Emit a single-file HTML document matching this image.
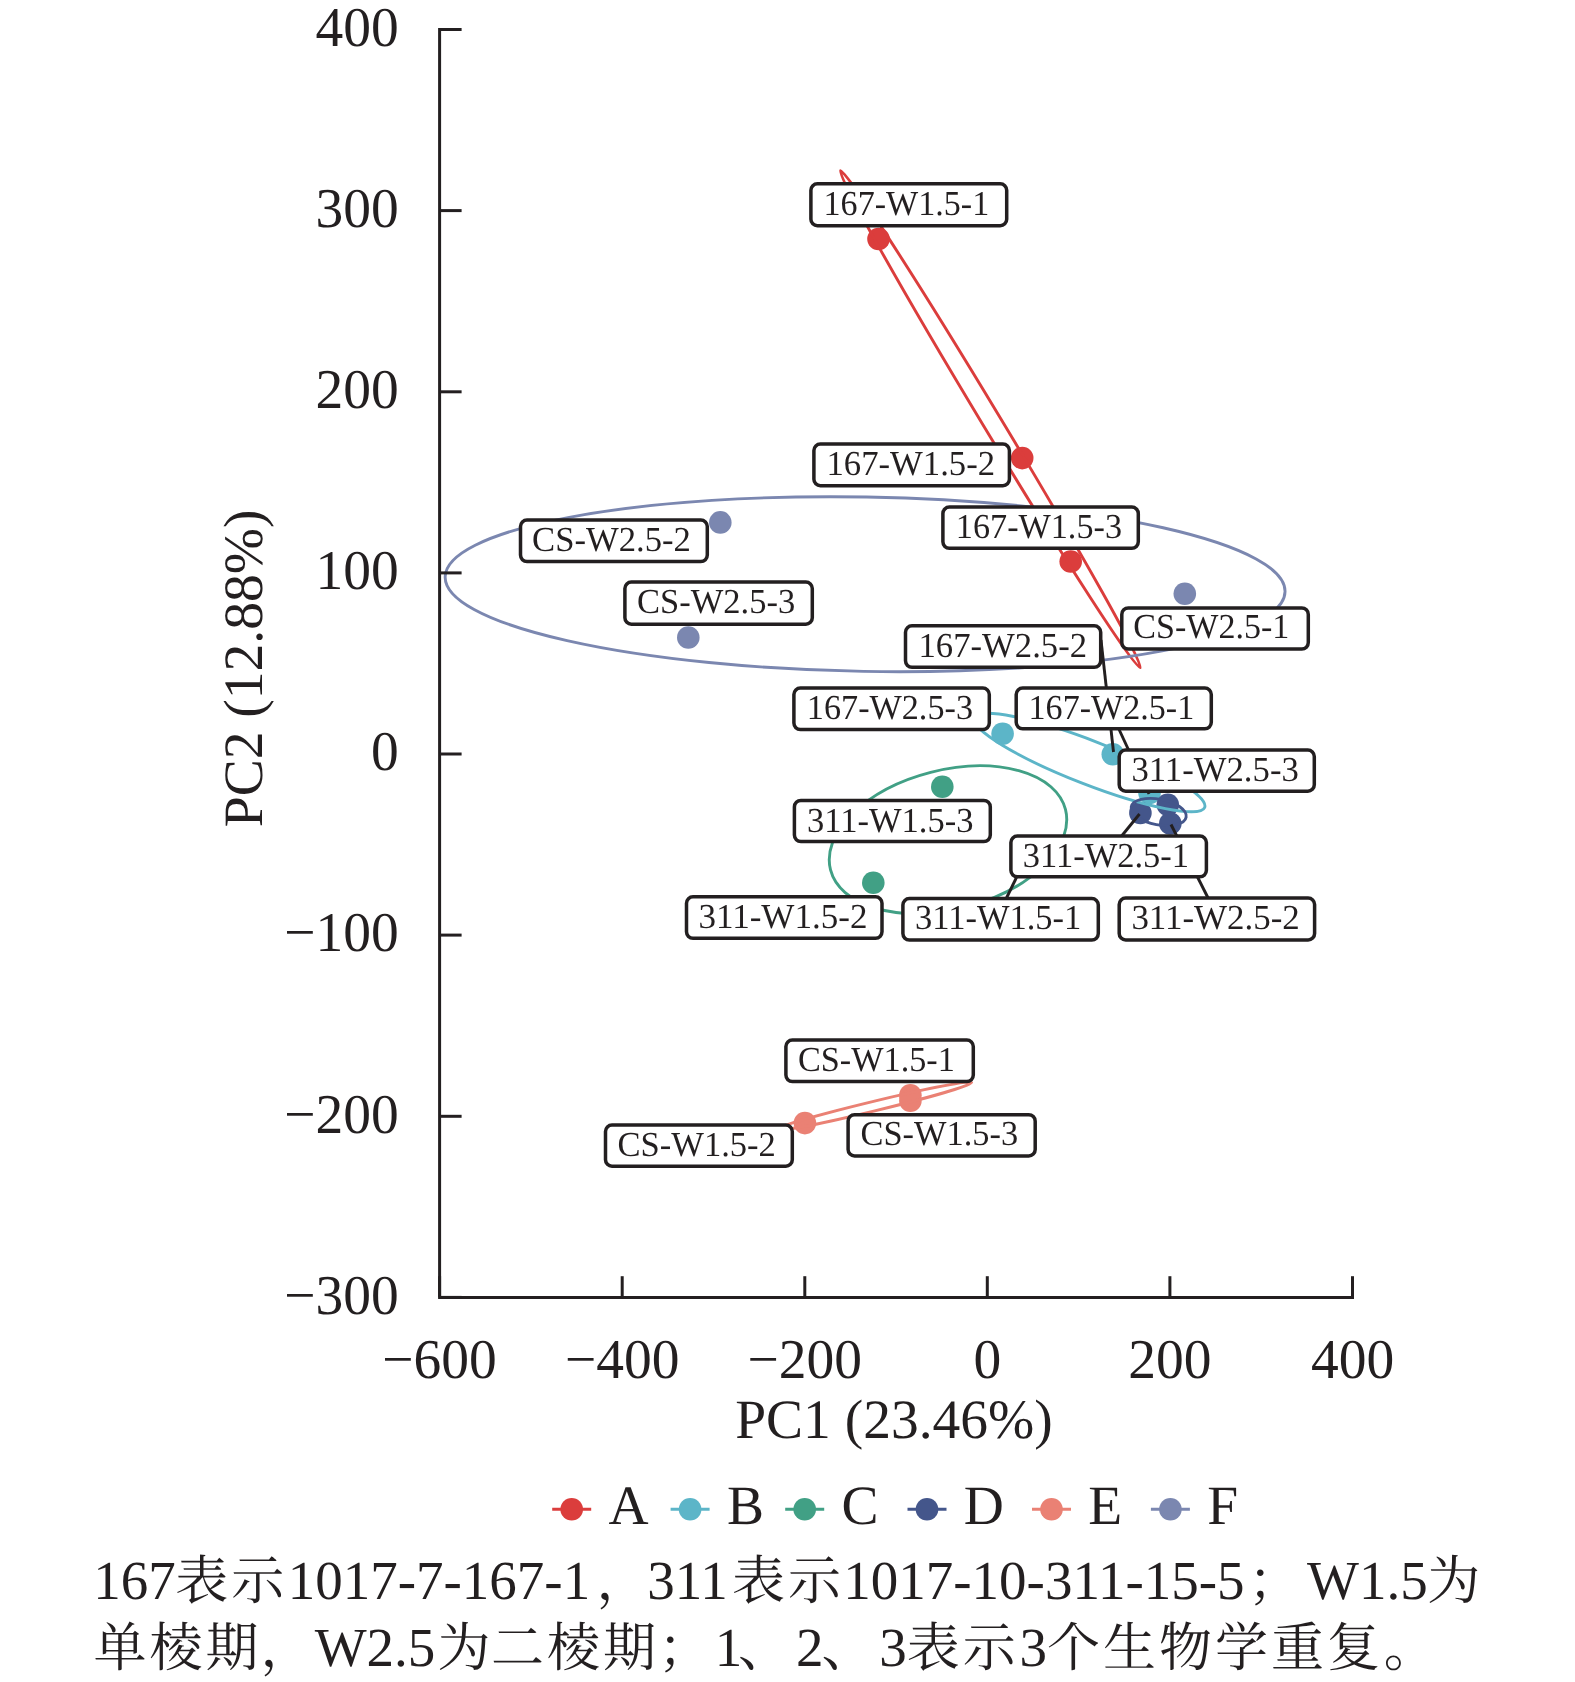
<!DOCTYPE html>
<html><head><meta charset="utf-8"><title>PCA</title>
<style>html,body{margin:0;padding:0;background:#fff;width:1575px;height:1682px;overflow:hidden}</style>
</head><body>
<svg width="1575" height="1682" viewBox="0 0 1575 1682" style="display:block;will-change:transform;text-rendering:geometricPrecision">
<rect width="1575" height="1682" fill="#fff"/>
<circle cx="878.5" cy="239.0" r="11.3" fill="#DB3D3C"/>
<circle cx="1022.2" cy="458.1" r="11.3" fill="#DB3D3C"/>
<circle cx="1070.7" cy="561.5" r="11.3" fill="#DB3D3C"/>
<circle cx="1002.6" cy="733.8" r="11.3" fill="#5CB5C8"/>
<circle cx="1112.8" cy="754.3" r="11.3" fill="#5CB5C8"/>
<circle cx="1149.5" cy="793.0" r="11.3" fill="#5CB5C8"/>
<circle cx="942.3" cy="786.8" r="11.3" fill="#41A085"/>
<circle cx="873.3" cy="882.8" r="11.3" fill="#41A085"/>
<circle cx="1028.5" cy="850.0" r="11.3" fill="#41A085"/>
<circle cx="1140.4" cy="813.0" r="11.3" fill="#44568B"/>
<circle cx="1167.8" cy="804.8" r="11.3" fill="#44568B"/>
<circle cx="1170.3" cy="823.5" r="11.3" fill="#44568B"/>
<circle cx="804.9" cy="1123.1" r="11.3" fill="#EA8174"/>
<circle cx="910.4" cy="1095.3" r="11.3" fill="#EA8174"/>
<circle cx="910.4" cy="1100.7" r="11.3" fill="#EA8174"/>
<circle cx="1184.8" cy="593.8" r="11.3" fill="#7B87B0"/>
<circle cx="720.3" cy="522.4" r="11.3" fill="#7B87B0"/>
<circle cx="688.3" cy="637.5" r="11.3" fill="#7B87B0"/>
<ellipse cx="990.35" cy="419.2" rx="290.2" ry="9.2" transform="rotate(58.9 990.35 419.2)" fill="none" stroke="#DB3D3C" stroke-width="2.9"/>
<ellipse cx="1089.4" cy="762.6" rx="123.7" ry="21.8" transform="rotate(21.25 1089.4 762.6)" fill="none" stroke="#5CB5C8" stroke-width="2.9"/>
<ellipse cx="948.0" cy="839.7" rx="121.3" ry="69.6" transform="rotate(-14.44 948.0 839.7)" fill="none" stroke="#41A085" stroke-width="2.9"/>
<ellipse cx="1158.7" cy="812.0" rx="27.9" ry="12.8" transform="rotate(10.7 1158.7 812.0)" fill="none" stroke="#44568B" stroke-width="2.9"/>
<ellipse cx="873.6" cy="1106.2" rx="100.9" ry="4.77" transform="rotate(-13.6 873.6 1106.2)" fill="none" stroke="#EA8174" stroke-width="2.9"/>
<ellipse cx="865.1" cy="584.2" rx="420.0" ry="87.2" transform="rotate(1.01 865.1 584.2)" fill="none" stroke="#7B87B0" stroke-width="2.9"/>
<g stroke="#231F20" stroke-width="3" fill="none">
<path d="M439.6 28.0 V1297.4 H1354.0" stroke-linejoin="miter" stroke-linecap="butt"/>
<line x1="439.6" y1="29.5" x2="461.6" y2="29.5"/>
<line x1="439.6" y1="210.6" x2="461.6" y2="210.6"/>
<line x1="439.6" y1="391.8" x2="461.6" y2="391.8"/>
<line x1="439.6" y1="572.9" x2="461.6" y2="572.9"/>
<line x1="439.6" y1="754.0" x2="461.6" y2="754.0"/>
<line x1="439.6" y1="935.1" x2="461.6" y2="935.1"/>
<line x1="439.6" y1="1116.3" x2="461.6" y2="1116.3"/>
<line x1="439.6" y1="1297.4" x2="461.6" y2="1297.4"/>
<line x1="439.6" y1="1297.4" x2="439.6" y2="1276.2"/>
<line x1="622.2" y1="1297.4" x2="622.2" y2="1276.2"/>
<line x1="804.8" y1="1297.4" x2="804.8" y2="1276.2"/>
<line x1="987.3" y1="1297.4" x2="987.3" y2="1276.2"/>
<line x1="1169.9" y1="1297.4" x2="1169.9" y2="1276.2"/>
<line x1="1352.5" y1="1297.4" x2="1352.5" y2="1276.2"/>
</g>
<g font-family="'Liberation Serif', 'Times New Roman', serif" font-size="55.5" fill="#231F20">
<text transform="translate(398.8 45.8) scale(1 1.012)" text-anchor="end">400</text>
<text transform="translate(398.8 226.9) scale(1 1.012)" text-anchor="end">300</text>
<text transform="translate(398.8 408.1) scale(1 1.012)" text-anchor="end">200</text>
<text transform="translate(398.8 589.2) scale(1 1.012)" text-anchor="end">100</text>
<text transform="translate(398.8 770.3) scale(1 1.012)" text-anchor="end">0</text>
<text transform="translate(398.8 951.4) scale(1 1.012)" text-anchor="end">−100</text>
<text transform="translate(398.8 1132.6) scale(1 1.012)" text-anchor="end">−200</text>
<text transform="translate(398.8 1313.7) scale(1 1.012)" text-anchor="end">−300</text>
<text transform="translate(439.6 1378) scale(1 1.012)" text-anchor="middle">−600</text>
<text transform="translate(622.2 1378) scale(1 1.012)" text-anchor="middle">−400</text>
<text transform="translate(804.8 1378) scale(1 1.012)" text-anchor="middle">−200</text>
<text transform="translate(987.3 1378) scale(1 1.012)" text-anchor="middle">0</text>
<text transform="translate(1169.9 1378) scale(1 1.012)" text-anchor="middle">200</text>
<text transform="translate(1352.5 1378) scale(1 1.012)" text-anchor="middle">400</text>
<text x="894" y="1437.5" text-anchor="middle">PC1 (23.46%)</text>
<text transform="translate(262.4 668.4) rotate(-90)" text-anchor="middle">PC2 (12.88%)</text>
</g>
<g stroke="#231F20" stroke-width="2.9" stroke-linecap="butt">
<line x1="1101.0" y1="640.0" x2="1113.5" y2="752.0"/>
<line x1="1117.0" y1="725.0" x2="1149.0" y2="794.0"/>
<line x1="1120.0" y1="838.0" x2="1139.5" y2="814.0"/>
<line x1="1208.6" y1="899.0" x2="1171.0" y2="824.5"/>
<line x1="1005.5" y1="900.0" x2="1026.0" y2="858.0"/>
</g>
<g font-family="'Liberation Serif', 'Times New Roman', serif" font-size="35" fill="#231F20">
<rect x="810.9" y="183.8" width="195.8" height="41.9" rx="6.5" ry="6.5" fill="#fff" stroke="#231F20" stroke-width="3.5"/>
<text transform="translate(823.58 214.70) scale(0.9739 1)">167-W1.5-1</text>
<rect x="813.9" y="444.1" width="195.5" height="41.6" rx="6.5" ry="6.5" fill="#fff" stroke="#231F20" stroke-width="3.5"/>
<text transform="translate(826.53 474.60) scale(0.9909 1)">167-W1.5-2</text>
<rect x="942.9" y="507.1" width="195.4" height="41.2" rx="6.5" ry="6.5" fill="#fff" stroke="#231F20" stroke-width="3.5"/>
<text transform="translate(955.87 537.70) scale(0.9765 1)">167-W1.5-3</text>
<rect x="520.5" y="520.0" width="186.8" height="41.6" rx="6.5" ry="6.5" fill="#fff" stroke="#231F20" stroke-width="3.5"/>
<text transform="translate(532.01 550.70) scale(0.9905 1)">CS-W2.5-2</text>
<rect x="624.9" y="582.0" width="187.4" height="42.2" rx="6.5" ry="6.5" fill="#fff" stroke="#231F20" stroke-width="3.5"/>
<text transform="translate(637.01 613.00) scale(0.9861 1)">CS-W2.5-3</text>
<rect x="1121.8" y="607.9" width="186.5" height="41.2" rx="6.5" ry="6.5" fill="#fff" stroke="#231F20" stroke-width="3.5"/>
<text transform="translate(1133.33 637.70) scale(0.9728 1)">CS-W2.5-1</text>
<rect x="905.5" y="625.8" width="195.2" height="41.5" rx="6.5" ry="6.5" fill="#fff" stroke="#231F20" stroke-width="3.5"/>
<text transform="translate(918.53 656.70) scale(0.9909 1)">167-W2.5-2</text>
<rect x="793.9" y="688.0" width="195.4" height="41.6" rx="6.5" ry="6.5" fill="#fff" stroke="#231F20" stroke-width="3.5"/>
<text transform="translate(806.87 718.60) scale(0.9765 1)">167-W2.5-3</text>
<rect x="1016.2" y="688.0" width="195.1" height="40.8" rx="6.5" ry="6.5" fill="#fff" stroke="#231F20" stroke-width="3.5"/>
<text transform="translate(1028.58 718.60) scale(0.9739 1)">167-W2.5-1</text>
<rect x="1119.2" y="750.0" width="195.1" height="41.2" rx="6.5" ry="6.5" fill="#fff" stroke="#231F20" stroke-width="3.5"/>
<text transform="translate(1131.41 780.60) scale(0.9916 1)">311-W2.5-3</text>
<rect x="794.4" y="800.4" width="195.9" height="41.2" rx="6.5" ry="6.5" fill="#fff" stroke="#231F20" stroke-width="3.5"/>
<text transform="translate(807.01 831.50) scale(0.9862 1)">311-W1.5-3</text>
<rect x="1010.9" y="836.0" width="195.5" height="40.8" rx="6.5" ry="6.5" fill="#fff" stroke="#231F20" stroke-width="3.5"/>
<text transform="translate(1022.72 866.60) scale(0.9849 1)">311-W2.5-1</text>
<rect x="686.5" y="896.8" width="195.5" height="41.5" rx="6.5" ry="6.5" fill="#fff" stroke="#231F20" stroke-width="3.5"/>
<text transform="translate(698.40 927.70) scale(1.0018 1)">311-W1.5-2</text>
<rect x="902.9" y="898.5" width="195.4" height="41.6" rx="6.5" ry="6.5" fill="#fff" stroke="#231F20" stroke-width="3.5"/>
<text transform="translate(915.02 928.80) scale(0.9849 1)">311-W1.5-1</text>
<rect x="1119.2" y="898.1" width="195.4" height="41.9" rx="6.5" ry="6.5" fill="#fff" stroke="#231F20" stroke-width="3.5"/>
<text transform="translate(1131.40 928.80) scale(0.9976 1)">311-W2.5-2</text>
<rect x="785.9" y="1040.0" width="187.4" height="41.6" rx="6.5" ry="6.5" fill="#fff" stroke="#231F20" stroke-width="3.5"/>
<text transform="translate(798.02 1071.00) scale(0.9772 1)">CS-W1.5-1</text>
<rect x="848.1" y="1114.7" width="187.1" height="41.2" rx="6.5" ry="6.5" fill="#fff" stroke="#231F20" stroke-width="3.5"/>
<text transform="translate(860.52 1145.00) scale(0.9829 1)">CS-W1.5-3</text>
<rect x="605.5" y="1125.0" width="186.8" height="41.2" rx="6.5" ry="6.5" fill="#fff" stroke="#231F20" stroke-width="3.5"/>
<text transform="translate(617.51 1156.00) scale(0.9873 1)">CS-W1.5-2</text>
</g>
<line x1="552.2" y1="1509.3" x2="591.2" y2="1509.3" stroke="#DB3D3C" stroke-width="3"/>
<circle cx="571.7" cy="1509.3" r="11.3" fill="#DB3D3C"/>
<text x="608.5" y="1524" font-family="'Liberation Serif', 'Times New Roman', serif" font-size="55.5" fill="#231F20">A</text>
<line x1="670.6" y1="1509.3" x2="709.6" y2="1509.3" stroke="#5CB5C8" stroke-width="3"/>
<circle cx="690.1" cy="1509.3" r="11.3" fill="#5CB5C8"/>
<text x="726.9" y="1524" font-family="'Liberation Serif', 'Times New Roman', serif" font-size="55.5" fill="#231F20">B</text>
<line x1="785.2" y1="1509.3" x2="824.2" y2="1509.3" stroke="#41A085" stroke-width="3"/>
<circle cx="804.7" cy="1509.3" r="11.3" fill="#41A085"/>
<text x="841.5" y="1524" font-family="'Liberation Serif', 'Times New Roman', serif" font-size="55.5" fill="#231F20">C</text>
<line x1="907.5" y1="1509.3" x2="946.5" y2="1509.3" stroke="#44568B" stroke-width="3"/>
<circle cx="927.0" cy="1509.3" r="11.3" fill="#44568B"/>
<text x="963.8" y="1524" font-family="'Liberation Serif', 'Times New Roman', serif" font-size="55.5" fill="#231F20">D</text>
<line x1="1032.0" y1="1509.3" x2="1071.0" y2="1509.3" stroke="#EA8174" stroke-width="3"/>
<circle cx="1051.5" cy="1509.3" r="11.3" fill="#EA8174"/>
<text x="1088.3" y="1524" font-family="'Liberation Serif', 'Times New Roman', serif" font-size="55.5" fill="#231F20">E</text>
<line x1="1150.9" y1="1509.3" x2="1189.9" y2="1509.3" stroke="#7B87B0" stroke-width="3"/>
<circle cx="1170.4" cy="1509.3" r="11.3" fill="#7B87B0"/>
<text x="1207.2" y="1524" font-family="'Liberation Serif', 'Times New Roman', serif" font-size="55.5" fill="#231F20">F</text>
<text y="1598.5" fill="#231F20"><tspan x="93.3" font-family="'Liberation Serif', serif" font-size="55">167</tspan><tspan x="175.3" font-family="'Liberation Serif', 'Noto Serif CJK SC', serif" font-size="53" letter-spacing="3">表示</tspan><tspan x="287.7" font-family="'Liberation Serif', serif" font-size="55">1017-7-167-1</tspan><tspan x="596.6" font-family="'Liberation Serif', 'Noto Serif CJK SC', serif" font-size="53" letter-spacing="3">，</tspan><tspan x="647.2" font-family="'Liberation Serif', serif" font-size="55">311</tspan><tspan x="732.0" font-family="'Liberation Serif', 'Noto Serif CJK SC', serif" font-size="53" letter-spacing="3">表示</tspan><tspan x="843.3" font-family="'Liberation Serif', serif" font-size="55">1017-10-311-15-5</tspan><tspan x="1248.0" font-family="'Liberation Serif', 'Noto Serif CJK SC', serif" font-size="53" letter-spacing="3">；</tspan><tspan x="1307.0" font-family="'Liberation Serif', serif" font-size="55">W1.5</tspan><tspan x="1427.2" font-family="'Liberation Serif', 'Noto Serif CJK SC', serif" font-size="53" letter-spacing="3">为</tspan></text>
<text y="1665.5" fill="#231F20"><tspan x="93.4" font-family="'Liberation Serif', 'Noto Serif CJK SC', serif" font-size="53" letter-spacing="3">单棱期</tspan><tspan x="260.4" font-family="'Liberation Serif', 'Noto Serif CJK SC', serif" font-size="53" letter-spacing="3">，</tspan><tspan x="314.7" font-family="'Liberation Serif', serif" font-size="55">W2.5</tspan><tspan x="437.4" font-family="'Liberation Serif', 'Noto Serif CJK SC', serif" font-size="53" letter-spacing="3">为</tspan><tspan x="491.0" font-family="'Liberation Serif', 'Noto Serif CJK SC', serif" font-size="53" letter-spacing="3">二棱期</tspan><tspan x="657.9" font-family="'Liberation Serif', 'Noto Serif CJK SC', serif" font-size="53" letter-spacing="3">；</tspan><tspan x="714.7" font-family="'Liberation Serif', serif" font-size="55">1</tspan><tspan x="738.0" font-family="'Liberation Serif', 'Noto Serif CJK SC', serif" font-size="53" letter-spacing="3">、</tspan><tspan x="796.0" font-family="'Liberation Serif', serif" font-size="55">2</tspan><tspan x="821.4" font-family="'Liberation Serif', 'Noto Serif CJK SC', serif" font-size="53" letter-spacing="3">、</tspan><tspan x="879.3" font-family="'Liberation Serif', serif" font-size="55">3</tspan><tspan x="906.7" font-family="'Liberation Serif', 'Noto Serif CJK SC', serif" font-size="53" letter-spacing="3">表示</tspan><tspan x="1019.5" font-family="'Liberation Serif', serif" font-size="55">3</tspan><tspan x="1046.9" font-family="'Liberation Serif', 'Noto Serif CJK SC', serif" font-size="53" letter-spacing="3">个生物学重复</tspan><tspan x="1383.7" font-family="'Liberation Serif', 'Noto Serif CJK SC', serif" font-size="53" letter-spacing="3">。</tspan></text>
</svg>
</body></html>
